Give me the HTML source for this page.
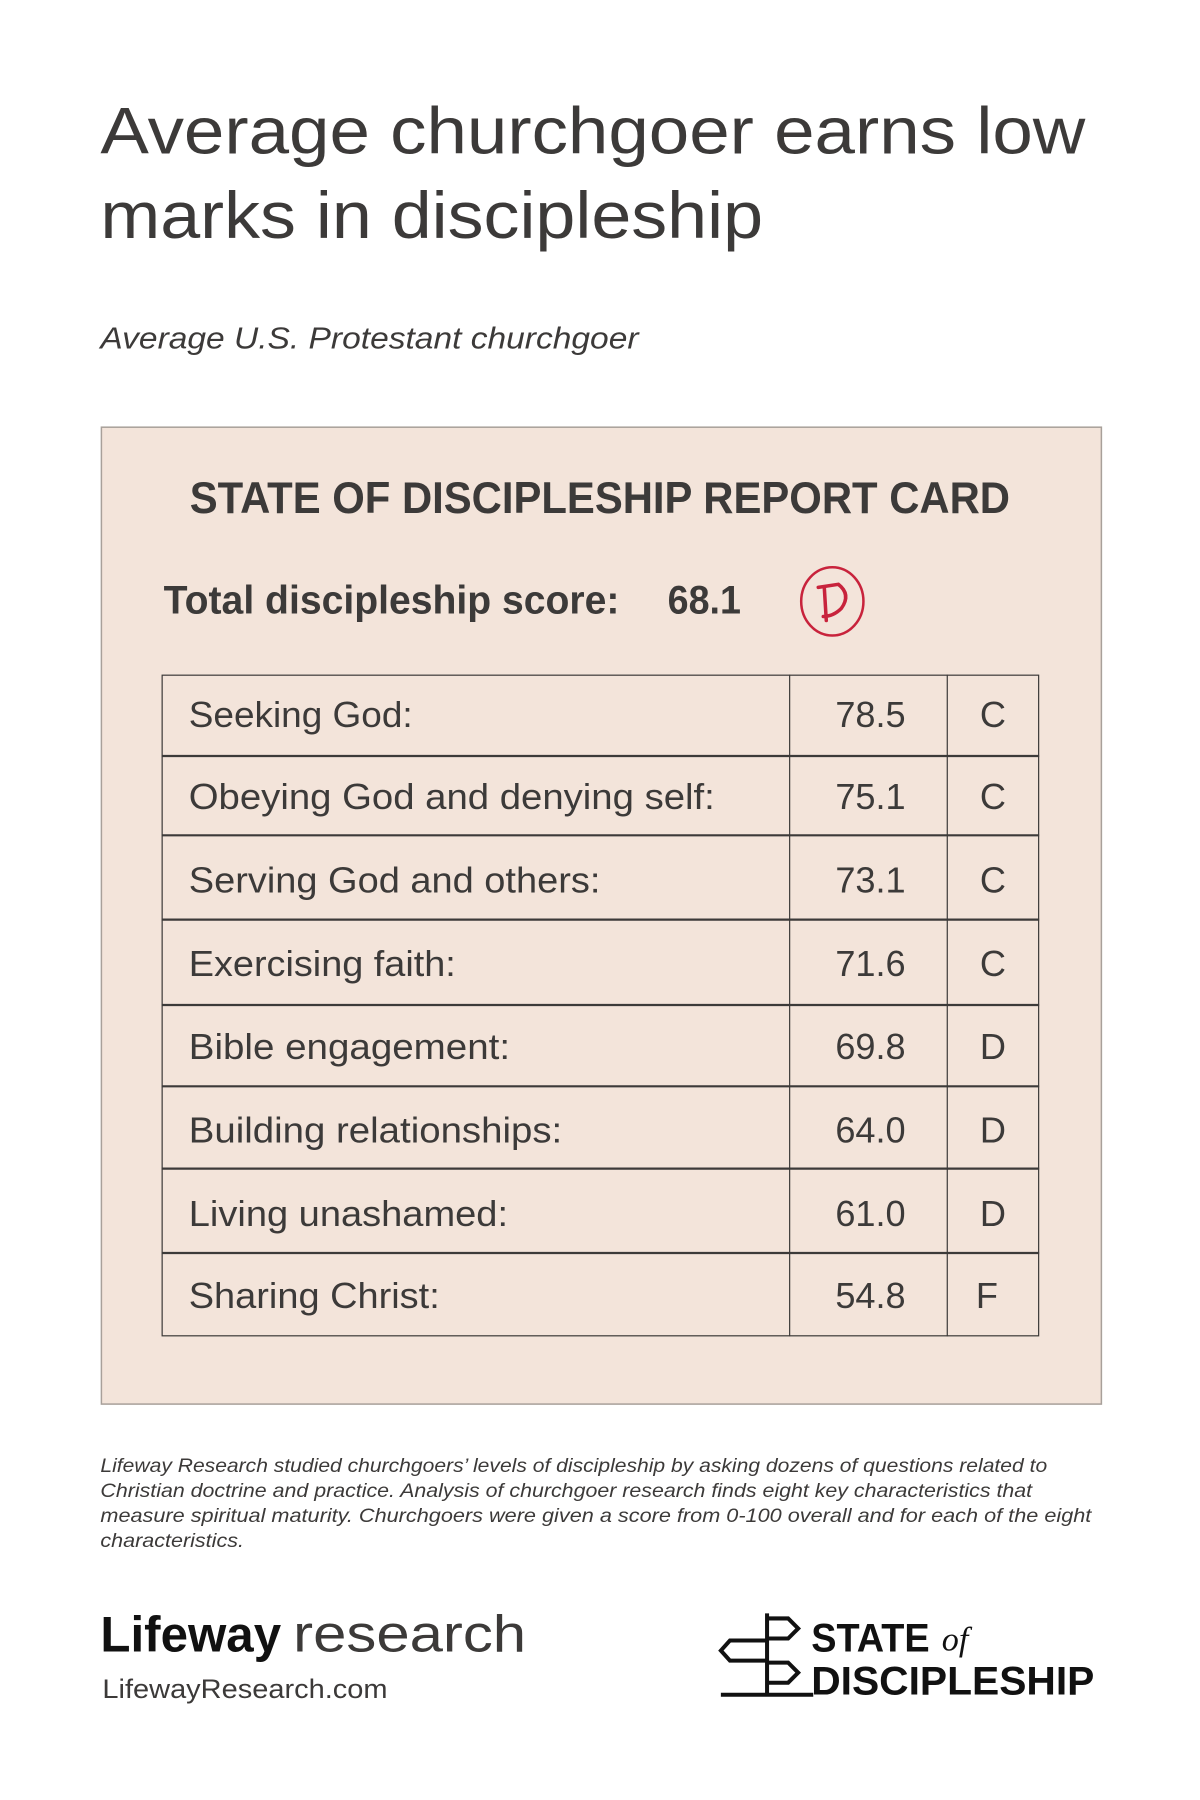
<!DOCTYPE html>
<html><head><meta charset="utf-8"><style>
html,body{margin:0;padding:0;background:#fff;}
svg{display:block;}
text{font-family:"Liberation Sans",sans-serif;fill:#3c3a39;}
</style></head><body>
<svg width="1200" height="1800" viewBox="0 0 1200 1800" xmlns="http://www.w3.org/2000/svg">
<rect width="1200" height="1800" fill="#fff"/>
<g transform="translate(0,2) scale(1.004)">
<text x="100" y="151" font-size="66" textLength="981" lengthAdjust="spacingAndGlyphs">Average churchgoer earns low</text>
<text x="100" y="235" font-size="66" textLength="660" lengthAdjust="spacingAndGlyphs">marks in discipleship</text>
<text x="100" y="345" font-size="30" font-style="italic" textLength="536" lengthAdjust="spacingAndGlyphs">Average U.S. Protestant churchgoer</text>

<rect x="101" y="423.5" width="996" height="973" fill="#f3e4da" stroke="#a8a09a" stroke-width="1.5"/>
<text x="189" y="509" font-size="44" font-weight="bold" textLength="817" lengthAdjust="spacingAndGlyphs">STATE OF DISCIPLESHIP REPORT CARD</text>
<text x="163" y="609" font-size="40" font-weight="bold" textLength="454" lengthAdjust="spacingAndGlyphs">Total discipleship score:</text>
<text x="665" y="609" font-size="40" font-weight="bold" textLength="73" lengthAdjust="spacingAndGlyphs">68.1</text>
<ellipse cx="829" cy="597" rx="31" ry="34" fill="none" stroke="#c8233c" stroke-width="2.5"/>
<path d="M815 583 L835 580 Q848 590 838 604 Q830 612 820 612 M821 583 L823 616" fill="none" stroke="#c8233c" stroke-width="3.5" stroke-linecap="round"/>

<g stroke="#3c3a39" fill="none">
<rect x="161.5" y="670.5" width="873" height="658" stroke-width="1.2"/>
<line x1="786.5" y1="670" x2="786.5" y2="1329" stroke-width="1.2"/>
<line x1="943.5" y1="670" x2="943.5" y2="1329" stroke-width="1.2"/>
<line x1="161" y1="751" x2="1035" y2="751" stroke-width="2.2"/>
<line x1="161" y1="830" x2="1035" y2="830" stroke-width="2.2"/>
<line x1="161" y1="914" x2="1035" y2="914" stroke-width="2.2"/>
<line x1="161" y1="999" x2="1035" y2="999" stroke-width="2.2"/>
<line x1="161" y1="1080" x2="1035" y2="1080" stroke-width="2.2"/>
<line x1="161" y1="1162" x2="1035" y2="1162" stroke-width="2.2"/>
<line x1="161" y1="1246" x2="1035" y2="1246" stroke-width="2.2"/>
</g>
<g font-size="36">
<text x="188" y="722" textLength="223" lengthAdjust="spacingAndGlyphs">Seeking God:</text>
<text x="188" y="804" textLength="524" lengthAdjust="spacingAndGlyphs">Obeying God and denying self:</text>
<text x="188" y="887" textLength="410" lengthAdjust="spacingAndGlyphs">Serving God and others:</text>
<text x="188" y="970" textLength="266" lengthAdjust="spacingAndGlyphs">Exercising faith:</text>
<text x="188" y="1053" textLength="320" lengthAdjust="spacingAndGlyphs">Bible engagement:</text>
<text x="188" y="1136" textLength="372" lengthAdjust="spacingAndGlyphs">Building relationships:</text>
<text x="188" y="1219" textLength="318" lengthAdjust="spacingAndGlyphs">Living unashamed:</text>
<text x="188" y="1301" textLength="250" lengthAdjust="spacingAndGlyphs">Sharing Christ:</text>
<text x="832" y="722">78.5</text><text x="832" y="804">75.1</text><text x="832" y="887">73.1</text><text x="832" y="970">71.6</text>
<text x="832" y="1053">69.8</text><text x="832" y="1136">64.0</text><text x="832" y="1219">61.0</text><text x="832" y="1301">54.8</text>
<g text-anchor="middle">
<text x="989" y="722">C</text><text x="989" y="804">C</text><text x="989" y="887">C</text><text x="989" y="970">C</text>
<text x="989" y="1053">D</text><text x="989" y="1136">D</text><text x="989" y="1219">D</text><text x="983" y="1301">F</text>
</g>
</g>

<g font-size="19.5" font-style="italic">
<text x="100" y="1464" textLength="943" lengthAdjust="spacingAndGlyphs">Lifeway Research studied churchgoers’ levels of discipleship by asking dozens of questions related to</text>
<text x="100" y="1489" textLength="928" lengthAdjust="spacingAndGlyphs">Christian doctrine and practice. Analysis of churchgoer research finds eight key characteristics that</text>
<text x="100" y="1514" textLength="987" lengthAdjust="spacingAndGlyphs">measure spiritual maturity. Churchgoers were given a score from 0-100 overall and for each of the eight</text>
<text x="100" y="1539" textLength="143" lengthAdjust="spacingAndGlyphs">characteristics.</text>
</g>

<text x="100" y="1643" font-size="50" font-weight="bold" style="fill:#111" textLength="180" lengthAdjust="spacingAndGlyphs">Lifeway</text>
<text x="292" y="1643" font-size="52" textLength="232" lengthAdjust="spacingAndGlyphs">research</text>
<text x="102" y="1689" font-size="27" textLength="284" lengthAdjust="spacingAndGlyphs">LifewayResearch.com</text>

<g stroke="#111" stroke-width="4" fill="none">
<line x1="764" y1="1605" x2="764" y2="1686"/>
<path d="M764 1610 H785 L795 1620 L785 1630 H764"/>
<path d="M764 1632 H727 L718 1642 L727 1652 H764"/>
<path d="M764 1654 H785 L795 1664 L785 1674 H764"/>
<line x1="718" y1="1686" x2="810" y2="1686"/>
</g>
<text x="808" y="1643" font-size="40" font-weight="bold" style="fill:#111" textLength="118" lengthAdjust="spacingAndGlyphs">STATE</text>
<text x="938" y="1642" font-size="34" font-style="italic" style="fill:#111;font-family:'Liberation Serif',serif">of</text>
<text x="808" y="1686" font-size="40" font-weight="bold" style="fill:#111" textLength="282" lengthAdjust="spacingAndGlyphs">DISCIPLESHIP</text>
</g>
</svg>
</body></html>
